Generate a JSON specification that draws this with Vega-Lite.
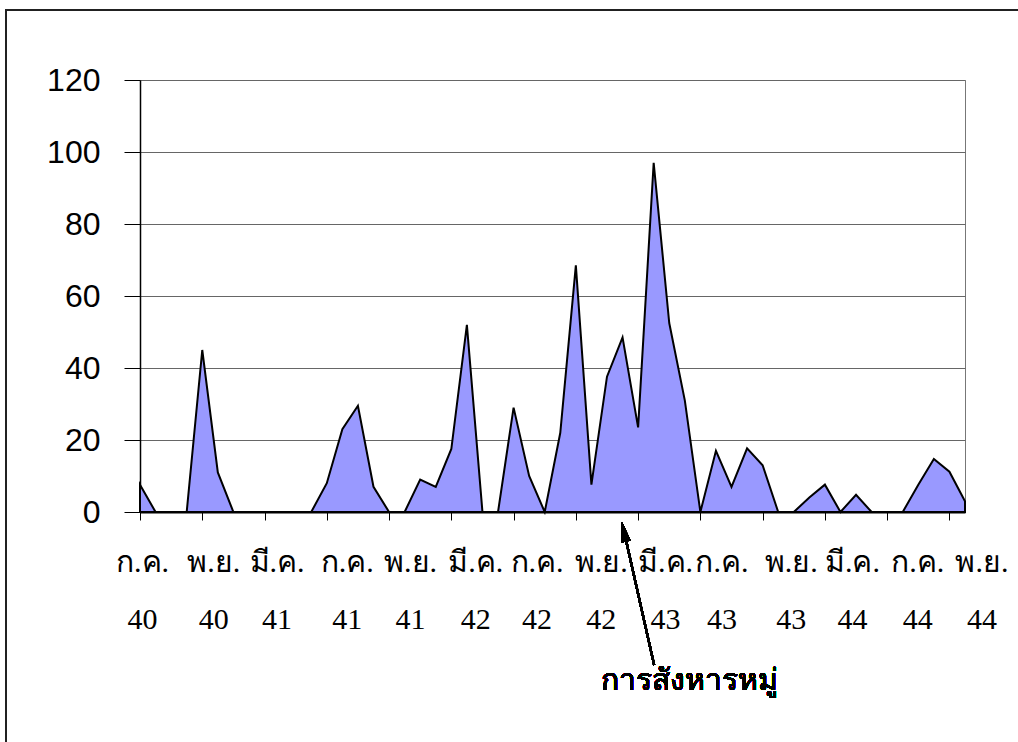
{
  "$schema": "https://vega.github.io/schema/vega-lite/v6.json",
  "width": 825,
  "height": 432,
  "autosize": {"type": "none"},
  "padding": {"left": 140, "top": 80, "right": 53, "bottom": 230},
  "background": "white",
  "config": {"view": {"stroke": "#777", "strokeWidth": 1}},
  "data": {
    "values": [
      {"i": 0, "month": "ก.ค. 40", "value": 7.6},
      {"i": 1, "month": "ส.ค. 40", "value": 0},
      {"i": 2, "month": "ก.ย. 40", "value": 0},
      {"i": 3, "month": "ต.ค. 40", "value": 0},
      {"i": 4, "month": "พ.ย. 40", "value": 45},
      {"i": 5, "month": "ธ.ค. 40", "value": 11},
      {"i": 6, "month": "ม.ค. 41", "value": 0},
      {"i": 7, "month": "ก.พ. 41", "value": 0},
      {"i": 8, "month": "มี.ค. 41", "value": 0},
      {"i": 9, "month": "เม.ย. 41", "value": 0},
      {"i": 10, "month": "พ.ค. 41", "value": 0},
      {"i": 11, "month": "มิ.ย. 41", "value": 0},
      {"i": 12, "month": "ก.ค. 41", "value": 8},
      {"i": 13, "month": "ส.ค. 41", "value": 23},
      {"i": 14, "month": "ก.ย. 41", "value": 29.5},
      {"i": 15, "month": "ต.ค. 41", "value": 7},
      {"i": 16, "month": "พ.ย. 41", "value": 0},
      {"i": 17, "month": "ธ.ค. 41", "value": 0},
      {"i": 18, "month": "ม.ค. 42", "value": 9},
      {"i": 19, "month": "ก.พ. 42", "value": 7},
      {"i": 20, "month": "มี.ค. 42", "value": 17.5},
      {"i": 21, "month": "เม.ย. 42", "value": 52},
      {"i": 22, "month": "พ.ค. 42", "value": 0},
      {"i": 23, "month": "มิ.ย. 42", "value": 0},
      {"i": 24, "month": "ก.ค. 42", "value": 29},
      {"i": 25, "month": "ส.ค. 42", "value": 10},
      {"i": 26, "month": "ก.ย. 42", "value": 0},
      {"i": 27, "month": "ต.ค. 42", "value": 22},
      {"i": 28, "month": "พ.ย. 42", "value": 68.5},
      {"i": 29, "month": "ธ.ค. 42", "value": 7.6},
      {"i": 30, "month": "ม.ค. 43", "value": 37.6},
      {"i": 31, "month": "ก.พ. 43", "value": 48.5},
      {"i": 32, "month": "มี.ค. 43", "value": 23.5},
      {"i": 33, "month": "เม.ย. 43", "value": 97},
      {"i": 34, "month": "พ.ค. 43", "value": 52.5},
      {"i": 35, "month": "มิ.ย. 43", "value": 31},
      {"i": 36, "month": "ก.ค. 43", "value": 0},
      {"i": 37, "month": "ส.ค. 43", "value": 17},
      {"i": 38, "month": "ก.ย. 43", "value": 7},
      {"i": 39, "month": "ต.ค. 43", "value": 17.7},
      {"i": 40, "month": "พ.ย. 43", "value": 13},
      {"i": 41, "month": "ธ.ค. 43", "value": 0},
      {"i": 42, "month": "ม.ค. 44", "value": 0},
      {"i": 43, "month": "ก.พ. 44", "value": 4},
      {"i": 44, "month": "มี.ค. 44", "value": 7.6},
      {"i": 45, "month": "เม.ย. 44", "value": 0},
      {"i": 46, "month": "พ.ค. 44", "value": 4.8},
      {"i": 47, "month": "มิ.ย. 44", "value": 0},
      {"i": 48, "month": "ก.ค. 44", "value": 0},
      {"i": 49, "month": "ส.ค. 44", "value": 0},
      {"i": 50, "month": "ก.ย. 44", "value": 7.6},
      {"i": 51, "month": "ต.ค. 44", "value": 14.7},
      {"i": 52, "month": "พ.ย. 44", "value": 11.2},
      {"i": 53, "month": "ธ.ค. 44", "value": 3}
    ]
  },
  "layer": [
    {
      "mark": {"type": "area", "color": "#9999FF", "stroke": "black", "strokeWidth": 2, "opacity": 1, "strokeJoin": "miter"},
      "encoding": {
        "x": {
          "field": "i",
          "type": "quantitative",
          "scale": {"domain": [0, 53], "nice": false, "zero": false},
          "axis": {
            "title": null,
            "values": [0, 4, 8, 12, 16, 20, 24, 28, 32, 36, 40, 44, 48, 52],
            "grid": false,
            "domainColor": "black",
            "domainWidth": 2,
            "tickColor": "black",
            "tickSize": 8,
            "tickWidth": 1,
            "labelExpr": "[['ก.ค.','40'],['พ.ย.','40'],['มี.ค.','41'],['ก.ค.','41'],['พ.ย.','41'],['มี.ค.','42'],['ก.ค.','42'],['พ.ย.','42'],['มี.ค.','43'],['ก.ค.','43'],['พ.ย.','43'],['มี.ค.','44'],['ก.ค.','44'],['พ.ย.','44']][datum.value/4]",
            "labelFont": "Liberation Serif",
            "labelFontSize": 30,
            "labelColor": "black",
            "labelLineHeight": 57,
            "labelPadding": 27,
            "labelBaseline": "top",
            "labelOffset": {"expr": "[2,11,12,20,21,24,23,25,27,21,28,27,30,32][datum.value/4]"},
            "labelFlush": false,
            "labelOverlap": false,
            "labelBound": false
          }
        },
        "y": {
          "field": "value",
          "type": "quantitative",
          "scale": {"domain": [0, 120], "nice": false},
          "axis": {
            "title": null,
            "values": [0, 20, 40, 60, 80, 100, 120],
            "domainColor": "black",
            "domainWidth": 1.5,
            "tickColor": "black",
            "tickSize": 16,
            "labelFont": "Liberation Sans",
            "labelFontSize": 32,
            "labelPadding": 24,
            "labelColor": "black",
            "gridColor": "#666",
            "gridWidth": 1
          }
        }
      }
    },
    {
      "mark": {"type": "rect", "fill": null, "fillOpacity": 0, "stroke": "#222", "strokeWidth": 1.5, "clip": false},
      "encoding": {
        "x": {"datum": -8.61},
        "x2": {"datum": 57},
        "y": {"datum": 139.44},
        "y2": {"datum": -70}
      }
    },
    {
      "mark": {"type": "rule", "stroke": "black", "strokeWidth": 2},
      "encoding": {
        "x": {"datum": 33.03},
        "y": {"datum": -42.5},
        "x2": {"datum": 31.1},
        "y2": {"datum": -5.5}
      }
    },
    {
      "mark": {"type": "point", "shape": "M0,-1L0.45,1L-0.45,1Z", "size": 400, "filled": true, "color": "black", "opacity": 1, "angle": -12.6},
      "encoding": {
        "x": {"datum": 31.1},
        "y": {"datum": -5.5}
      }
    },
    {
      "mark": {"type": "text", "text": "การสังหารหมู่", "font": "Liberation Serif", "fontSize": 30, "baseline": "middle", "align": "center", "color": "black"},
      "encoding": {
        "x": {"datum": 35.27},
        "y": {"datum": -47}
      }
    }
  ]
}
